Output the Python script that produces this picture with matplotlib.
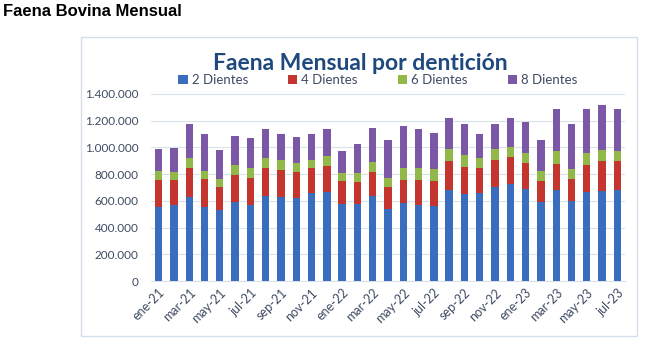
import numpy as np
import matplotlib
matplotlib.use("Agg")
from matplotlib import pyplot as plt
from matplotlib.patches import Rectangle
from matplotlib.ticker import FuncFormatter, MultipleLocator

# Monthly slaughter by dentition (head count)
months = ["ene-21", "feb-21", "mar-21", "abr-21", "may-21", "jun-21", "jul-21", "ago-21",
          "sep-21", "oct-21", "nov-21", "dic-21", "ene-22", "feb-22", "mar-22", "abr-22",
          "may-22", "jun-22", "jul-22", "ago-22", "sep-22", "oct-22", "nov-22", "dic-22",
          "ene-23", "feb-23", "mar-23", "abr-23", "may-23", "jun-23", "jul-23"]

dientes_2 = [552000, 567000, 627000, 552000, 530000, 590000, 567000, 634000, 627000, 620000,
             657000, 664000, 575000, 575000, 634000, 537000, 582000, 567000, 560000, 682000,
             649000, 657000, 702000, 724000, 689000, 590000, 682000, 597000, 667000, 674000,
             682000]
dientes_4 = [202000, 187000, 216000, 209000, 172000, 204000, 204000, 209000, 201000, 193000,
             186000, 194000, 171000, 164000, 179000, 165000, 172000, 187000, 186000, 216000,
             202000, 186000, 204000, 202000, 192000, 156000, 191000, 167000, 201000, 224000,
             216000]
dientes_6 = [67000, 59000, 75000, 62000, 59000, 72000, 72000, 75000, 75000, 68000,
             60000, 75000, 60000, 67000, 75000, 67000, 89000, 89000, 90000, 87000,
             89000, 75000, 79000, 74000, 77000, 77000, 100000, 74000, 90000, 82000,
             75000]
dientes_8 = [169000, 185000, 254000, 274000, 217000, 216000, 224000, 217000, 194000, 194000,
             194000, 202000, 164000, 217000, 254000, 283000, 314000, 292000, 269000, 239000,
             234000, 182000, 189000, 217000, 236000, 229000, 318000, 334000, 326000, 334000,
             311000]

series = [("2 Dientes", dientes_2, "#3b6dbf"),
          ("4 Dientes", dientes_4, "#c3352e"),
          ("6 Dientes", dientes_6, "#93b84a"),
          ("8 Dientes", dientes_8, "#7a58a6")]

text_col = "#3f4b63"

fig = plt.figure(figsize=(6.55, 3.48), dpi=100)

# page heading above the chart frame
fig.text(3 / 655, 1 - 12 / 348, "Faena Bovina Mensual", family="Liberation Sans",
         weight="bold", fontsize=12, color="black", va="center", ha="left")

# chart frame
fig.patches.append(Rectangle((81 / 655, 1 - 336 / 348), 556 / 655, 299 / 348,
                             transform=fig.transFigure, fill=False,
                             edgecolor="#d5dfe9", linewidth=1))

fig.text(360 / 655, 1 - 63 / 348, "Faena Mensual por dentición", family="Lato",
         weight="bold", fontsize=16.5, color="#1f497d", ha="center", va="center")

ax = fig.add_axes([151 / 655, 1 - 281 / 348, 474 / 655, 187 / 348])

x = np.arange(len(months))
bottom = np.zeros(len(months))
handles = []
for name, vals, col in series:
    b = ax.bar(x, vals, width=0.48, bottom=bottom, color=col, label=name, zorder=3)
    handles.append(b)
    bottom += np.array(vals)

ax.set_xlim(-0.5, len(months) - 0.5)
ax.set_ylim(0, 1400000)
ax.yaxis.set_major_locator(MultipleLocator(200000))
ax.yaxis.set_major_formatter(FuncFormatter(lambda v, p: f"{int(v):,}".replace(",", ".")))
ax.grid(axis="y", color="#d9e1ea", linewidth=0.8, zorder=0)

ax.set_xticks(x[::2])
ax.set_xticklabels(months[::2], rotation=45, ha="right", rotation_mode="anchor",
                   family="Lato", fontsize=9, color=text_col)
for lab in ax.get_yticklabels():
    lab.set_family("Lato")
    lab.set_fontsize(8.5)
    lab.set_color(text_col)
ax.tick_params(axis="both", length=0)
ax.tick_params(axis="y", pad=9)
ax.tick_params(axis="x", pad=4)

for s in ["top", "right", "left"]:
    ax.spines[s].set_visible(False)
ax.spines["bottom"].set_color("#d9e1ea")

ax.legend(handles=handles, ncol=4, loc="center", bbox_to_anchor=(0.479, 1.075),
          frameon=False, prop={"family": "Lato", "size": 9.5}, labelcolor=text_col,
          handlelength=0.7, handleheight=0.7, handletextpad=0.3, columnspacing=3.05,
          borderaxespad=0)

fig.savefig("out.png", dpi=100)
